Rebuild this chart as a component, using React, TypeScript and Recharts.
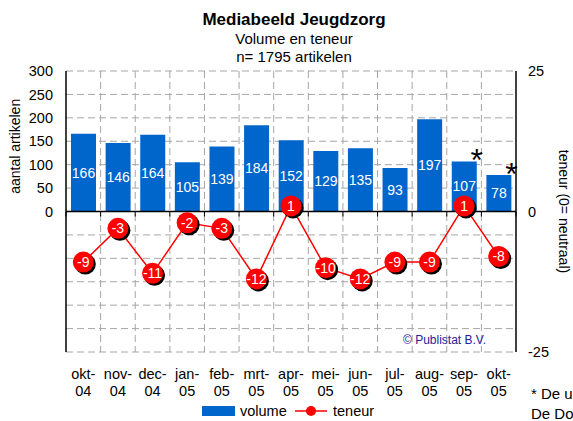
import React from 'react';
import {
  ComposedChart,
  Bar,
  Line,
  XAxis,
  YAxis,
  CartesianGrid,
  LabelList,
  Legend,
  ReferenceLine,
  Customized,
} from 'recharts';

const months = ['okt-04', 'nov-04', 'dec-04', 'jan-05', 'feb-05', 'mrt-05', 'apr-05', 'mei-05', 'jun-05', 'jul-05', 'aug-05', 'sep-05', 'okt-05'];
const volume = [166, 146, 164, 105, 139, 184, 152, 129, 135, 93, 197, 107, 78];
const teneur = [-9, -3, -11, -2, -3, -12, 1, -10, -12, -9, -9, 1, -8];
const flags = ['', '', '', '', '', '', '', '', '', '', '', '*', '*'];
const leftTicks = [-300, -250, -200, -150, -100, -50, 0, 50, 100, 150, 200, 250, 300];
const rightTicks = [-25, 0, 25];

const data = months.map((m, i) => ({ month: m, volume: volume[i], teneur: teneur[i], flag: flags[i] }));

const FONT = '"Liberation Sans", Arial, sans-serif';
const BLUE = '#0066CC';
const RED = '#FF0000';

const MonthTick = (props: any) => {
  const { x, y, payload } = props;
  const parts = String(payload.value).split('-');
  return (
    <text x={x} y={y} textAnchor="middle" fill="#000" fontSize={14.5}>
      <tspan x={x} dy={27}>{parts[0] + '-'}</tspan>
      <tspan x={x} dy={17}>{parts[1]}</tspan>
    </text>
  );
};

const TeneurDot = (props: any) => {
  const { cx, cy, payload, index } = props;
  if (cx == null || cy == null) return null;
  return (
    <g key={'dot-' + index}>
      <circle cx={cx + 2} cy={cy + 2} r={10.5} fill="#000" />
      <circle cx={cx} cy={cy} r={10.5} fill={RED} />
      <text x={cx} y={cy} dy={5} textAnchor="middle" fill="#fff" fontSize={14}>
        {payload.teneur}
      </text>
    </g>
  );
};

const FlagLabel = (props: any) => {
  const { x, y, width, value } = props;
  if (!value) return null;
  return (
    <text x={x + width} y={y - 8 + 18} textAnchor="middle" fill="#000" fontSize={32}>
      {value}
    </text>
  );
};

const ZeroAxis = (props: any) => {
  const { x1, y1, x2, y2 } = props;
  const n = months.length;
  const step = (x2 - x1) / n;
  const ticks = [];
  for (let i = 0; i <= n; i++) {
    ticks.push(<line key={i} x1={x1 + i * step} x2={x1 + i * step} y1={y1} y2={y1 + 5} stroke="#000" strokeWidth={1} />);
  }
  return (
    <g>
      <line x1={x1} y1={y1} x2={x2} y2={y2} stroke="#000" strokeWidth={1.5} />
      {ticks}
    </g>
  );
};

const LeftLabel = (props: any) => {
  const { viewBox } = props;
  const cx = viewBox.x + 9;
  const cy = viewBox.y + viewBox.height * 0.268;
  return (
    <text x={cx} y={cy} transform={`rotate(-90 ${cx} ${cy})`} textAnchor="middle" dominantBaseline="central" fill="#000" fontSize={14}>
      aantal artikelen
    </text>
  );
};

const RightLabel = (props: any) => {
  const { viewBox } = props;
  const cx = viewBox.x + 48;
  const cy = viewBox.y + viewBox.height / 2;
  return (
    <text x={cx} y={cy} transform={`rotate(90 ${cx} ${cy})`} textAnchor="middle" dominantBaseline="central" fill="#000" fontSize={14}>
      teneur (0= neutraal)
    </text>
  );
};

const Texts = () => (
  <g>
    <text x={294} y={25} textAnchor="middle" fontWeight="bold" fontSize={17} fill="#000">Mediabeeld Jeugdzorg</text>
    <text x={294} y={44} textAnchor="middle" fontSize={15} fill="#000">Volume en teneur</text>
    <text x={294} y={62} textAnchor="middle" fontSize={15} fill="#000">n= 1795 artikelen</text>
    <text x={403} y={344} fontSize={12} fill="#22229A">© Publistat B.V.</text>
    <text x={531} y={399} fontSize={15} fill="#000">* De u</text>
    <text x={531} y={419} fontSize={15} fill="#000">De Do</text>
  </g>
);

const LegendContent = (props: any) => {
  return (
    <svg width={200} height={22} style={{ display: 'block', fontFamily: FONT }}>
      <rect x={2} y={6} width={33} height={10} fill={BLUE} />
      <text x={40} y={16} fontSize={14.5} fill="#000">volume</text>
      <line x1={95} x2={127} y1={11} y2={11} stroke={RED} strokeWidth={1.5} />
      <circle cx={111} cy={11} r={5} fill={RED} />
      <text x={133} y={16} fontSize={14.5} fill="#000">teneur</text>
    </svg>
  );
};

const gridVerticals = ({ offset }: any) => {
  const n = months.length;
  const pts: number[] = [];
  for (let i = 1; i < n; i++) pts.push(offset.left + (i * offset.width) / n);
  return pts;
};

export default function App() {
  return (
    <div style={{ position: 'absolute', left: 0, top: 0, width: 573, height: 421, fontFamily: FONT, background: '#fff' }}>
      <ComposedChart width={573} height={421} data={data} margin={{ top: 71, right: 7, bottom: 19, left: 6 }}>
        <CartesianGrid
          yAxisId="left"
          stroke="#A6A6A6"
          strokeDasharray="7 4"
          verticalCoordinatesGenerator={gridVerticals}
        />
        <XAxis dataKey="month" axisLine={false} tickLine={false} tickSize={0} tickMargin={0} height={50} interval={0} tick={<MonthTick />} />
        <YAxis
          yAxisId="left"
          width={60}
          domain={[-300, 300]}
          ticks={leftTicks}
          interval={0}
          tickFormatter={(v: number) => (v < 0 ? '' : String(v))}
          axisLine={{ stroke: '#000', strokeWidth: 1.5 }}
          tickLine={false}
          tickSize={0}
          tickMargin={13}
          tick={{ fill: '#000', fontSize: 14.5 }}
          label={<LeftLabel />}
        />
        <YAxis
          yAxisId="right"
          orientation="right"
          width={50}
          domain={[-25, 25]}
          ticks={rightTicks}
          interval={0}
          axisLine={{ stroke: '#000', strokeWidth: 1.5 }}
          tickLine={false}
          tickSize={0}
          tickMargin={12}
          tick={{ fill: '#000', fontSize: 14.5 }}
          label={<RightLabel />}
        />
        <Bar yAxisId="left" dataKey="volume" name="volume" fill={BLUE} barSize={25} isAnimationActive={false}>
          <LabelList dataKey="volume" position="center" fill="#fff" fontSize={14} />
          <LabelList dataKey="flag" content={<FlagLabel />} />
        </Bar>
        <ReferenceLine yAxisId="left" y={0} shape={<ZeroAxis />} />
        <Line
          yAxisId="right"
          dataKey="teneur"
          name="teneur"
          stroke={RED}
          strokeWidth={1.5}
          dot={<TeneurDot />}
          activeDot={false}
          isAnimationActive={false}
        />
        <Legend
          verticalAlign="middle"
          align="center"
          layout="horizontal"
          content={<LegendContent />}
          wrapperStyle={{ position: 'absolute', top: 400, left: 200, width: 200, height: 22 }}
        />
        <Customized component={Texts} />
      </ComposedChart>
    </div>
  );
}
